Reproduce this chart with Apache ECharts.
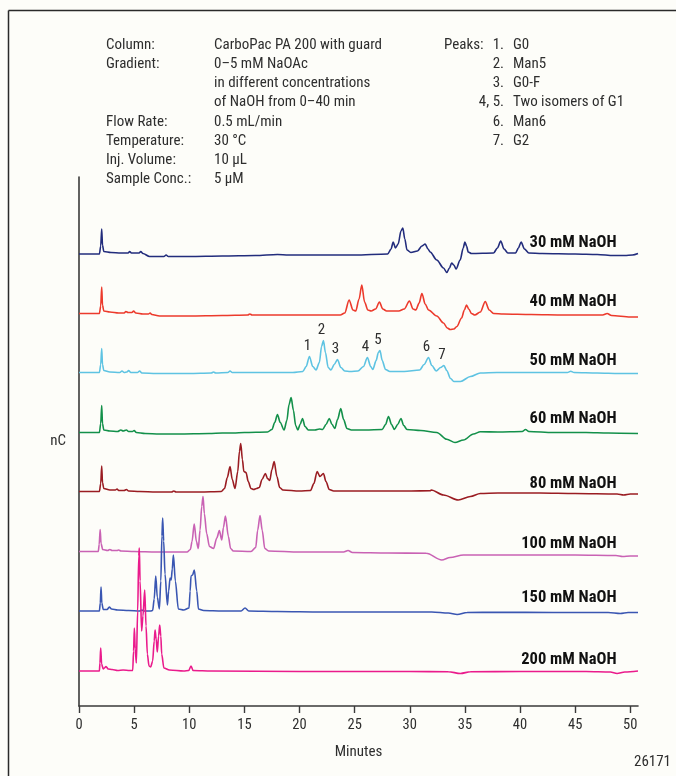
<!DOCTYPE html>
<html>
<head>
<meta charset="utf-8">
<script src="https://cdn.jsdelivr.net/npm/echarts@6/dist/echarts.min.js"></script>
<style>
  html, body { margin: 0; padding: 0; background: #fdfdf9; }
  #chart { width: 676px; height: 776px; }
</style>
</head>
<body>
<div id="chart"></div>
<script>
// ---- Chromatograms: [retention time (min), detector response] ----
const traceNames = ['30 mM NaOH', '40 mM NaOH', '50 mM NaOH', '60 mM NaOH',
                    '80 mM NaOH', '100 mM NaOH', '150 mM NaOH', '200 mM NaOH'];

const naoh30 = [[0,0],[1.85,0],[1.97,8],[2.06,25],[2.13,9],[2.25,2.5],[2.9,1.5],[3.8,1],[4.45,1],[4.6,2.5],[4.75,1],[5.45,1],[5.6,2.5],[5.8,0.5],[6.4,-2.5],[7.7,-2.5],[7.9,-1],[8.1,-2.5],[10,-2.5],[13,-2],[16,-1.5],[18,-0.5],[19,-1],[22,-1],[25,-1],[28.0,0],[28.3,5],[28.5,12],[28.7,6],[28.95,10],[29.2,23],[29.37,26],[29.55,15],[29.75,4],[30.1,1.5],[30.7,3],[31.1,8],[31.4,10],[31.65,5],[31.85,2],[32.45,-6],[33.06,-14],[33.36,-18.5],[33.6,-14],[33.8,-9],[34.0,-11],[34.2,-15],[34.57,-6],[34.85,6],[35.0,12],[35.15,8],[35.3,2],[35.6,0.5],[37.6,1],[37.95,6],[38.25,13],[38.55,5],[38.9,1],[39.6,1],[39.85,6],[40.1,12],[40.4,5],[40.8,1],[42,0.5],[45,0],[47,-0.5],[48.5,-1.5],[49.5,-1.5],[50.2,-1],[50.7,0.5]];

const naoh40 = [[0,0.5],[1.85,0.5],[1.97,8],[2.06,27],[2.13,9],[2.25,3],[2.8,2],[3.6,1],[4.1,1],[4.25,2.5],[4.45,1.5],[4.8,1.5],[4.95,3],[5.15,1],[5.8,0],[6.3,0],[6.45,1],[6.6,-0.5],[7.3,-2],[10,-2],[13,-1.5],[15.3,-1],[15.5,0],[15.7,-1],[18,-1],[21,-1],[23.7,-1],[24.1,1],[24.5,14],[24.85,4],[25.1,3],[25.4,15],[25.65,29],[25.9,12],[26.2,4],[26.5,3],[26.9,5],[27.25,12],[27.55,5],[27.9,3],[29.0,3],[29.5,5],[29.97,13],[30.3,5],[30.55,4],[30.85,11],[31.1,20.5],[31.4,10],[31.7,4],[32.45,-2],[33.06,-9],[33.4,-14],[33.67,-15.5],[34.0,-15],[34.27,-12.5],[34.7,-4],[34.95,4],[35.15,9],[35.35,5],[35.6,0.5],[35.9,-1],[36.4,2],[36.85,12.5],[37.2,4],[37.6,0.5],[38.5,0],[41,-0.5],[44,-1],[47.5,-1],[47.9,0.5],[48.3,-1.5],[50,-3],[50.7,-3]];

const naoh50 = [[0,0],[1.85,0],[1.97,8],[2.06,24],[2.13,8],[2.25,2],[2.8,0.5],[3.7,0],[3.9,1.5],[4.1,0],[4.35,0.5],[4.5,2],[4.7,0],[5.3,0],[5.5,1.5],[5.7,-0.5],[7,-1],[10,-1],[12,-0.5],[12.2,0.5],[12.4,-0.5],[13.5,0],[13.7,1.5],[13.9,0],[16,0],[19.4,0],[20.3,1],[20.6,6],[20.9,16],[21.2,6],[21.5,2.5],[21.8,10],[22.0,26],[22.17,32],[22.35,20],[22.6,5],[22.85,2.5],[23.15,8],[23.44,13],[23.75,5],[24.1,1.5],[24.6,1],[25.3,1.5],[25.8,6],[26.16,15],[26.45,6],[26.65,3],[26.95,12],[27.15,20],[27.3,22],[27.5,12],[27.8,3],[28.2,1],[29.5,1],[30.9,2.5],[31.3,8],[31.7,15],[32.0,7],[32.4,1.5],[32.8,5],[33.1,7],[33.35,2],[33.7,-6],[34.0,-9],[34.6,-9],[35.5,-4],[36.4,-0.5],[37.9,0],[40,0],[42,0],[44.3,0],[44.6,1.2],[44.9,0],[47,-0.5],[49,-1],[50.7,-1]];

const naoh60 = [[0,0],[1.85,0],[1.97,9],[2.06,27],[2.13,9],[2.25,2.5],[2.8,1.5],[3.5,1],[3.8,2.5],[4.0,1.5],[4.3,2.5],[4.5,1],[4.85,1],[5.0,2],[5.2,0],[6,-1],[7.3,-1.5],[9,-1.5],[11.8,-1],[13,-0.5],[14,-0.5],[15,0],[17.1,0.5],[17.5,3],[17.75,10],[18.0,18],[18.25,10],[18.6,2.5],[18.85,12],[19.05,28],[19.24,35],[19.45,22],[19.65,7],[19.85,2.5],[20.05,8],[20.27,14],[20.5,6],[20.8,2.5],[21.4,2.5],[21.8,3.5],[22.1,3],[22.4,8],[22.7,14],[22.95,8],[23.2,4],[23.45,13],[23.74,24],[24.0,13],[24.3,4],[24.7,2.5],[26,2.5],[27.5,3],[27.8,8],[28.07,16],[28.35,8],[28.6,3],[28.9,8],[29.2,14],[29.45,7],[29.75,3],[31,2],[32.45,0],[33.36,-6.8],[34.1,-10],[34.87,-7.5],[35.78,-1.5],[36.4,0.8],[38,0.5],[40.2,1],[40.5,3],[40.8,1],[43,0],[46,0],[48,-0.5],[50.7,-1]];

const naoh80 = [[0,0],[1.85,0],[1.97,8],[2.06,25.5],[2.13,9],[2.25,3],[2.8,1.5],[3.3,1.5],[3.45,2.5],[3.6,1],[4.1,1],[4.3,2],[4.5,0.5],[5.5,0],[7,-0.5],[8.4,-0.5],[8.6,0.5],[8.8,-0.5],[11,-0.5],[12.9,0],[13.2,3],[13.45,14],[13.7,25],[13.9,12],[14.15,3],[14.4,20],[14.55,40],[14.67,48],[14.82,32],[14.95,20],[15.15,19],[15.35,10],[15.6,3],[15.85,2],[16.1,3],[16.35,4],[16.6,12],[16.9,18],[17.1,13],[17.3,11],[17.5,22],[17.7,30],[17.95,15],[18.2,4],[18.5,1.5],[20,0.5],[21.0,1],[21.3,8],[21.6,20],[21.85,15],[22.17,18],[22.4,10],[22.7,2],[23.1,0.5],[25,0.5],[28,0.5],[30,0.5],[31.85,0.8],[31.95,1.5],[33.06,-3.5],[34.4,-8.5],[35.5,-5],[36.4,-2],[38,-1.5],[41.8,-1.5],[45,-2],[48.8,-2.5],[49.4,-3.5],[50,-2.5],[50.7,-2.5]];

const naoh100 = [[0,0],[1.75,0],[1.83,7],[1.92,22],[2.0,8],[2.15,2],[2.6,1],[2.8,2],[3.0,1],[3.45,1],[3.6,1.5],[3.8,0.5],[5,0],[7,-0.5],[9.8,-0.5],[10.1,2],[10.25,10],[10.45,27.5],[10.65,10],[10.82,3],[10.98,21.5],[11.13,45],[11.25,55],[11.37,38],[11.58,18],[11.83,5],[12.2,3],[12.5,13.5],[12.73,21],[12.95,11.5],[13.1,24],[13.28,35.5],[13.55,15],[13.75,3],[14.0,0.5],[15.6,0],[16.03,4],[16.2,21],[16.42,36],[16.62,21],[16.85,3],[17.2,0.5],[20,-0.5],[24.0,-0.5],[24.4,1],[24.8,-1],[28,-1.5],[31.5,-1.8],[32.9,-8.5],[33.66,-6],[34.87,-3.5],[40,-3.5],[45,-3.5],[48.7,-4],[49.3,-5],[50,-4.5],[50.7,-4.5]];

const naoh150 = [[0,0],[1.85,0],[1.93,8],[2.0,24],[2.07,8],[2.2,1.5],[2.55,1.5],[2.75,4],[2.95,2],[3.5,1],[4.5,0.5],[5.5,0],[5.7,1],[5.9,0],[6.5,0],[6.68,0.5],[6.82,12],[6.96,35],[7.1,14],[7.29,2],[7.42,30],[7.52,75],[7.59,93],[7.68,70],[7.8,37],[8.02,6],[8.13,20],[8.26,33],[8.36,31],[8.46,42],[8.56,56],[8.74,30],[9.01,2],[9.5,1],[9.98,3],[10.08,20],[10.16,35],[10.3,36],[10.46,41],[10.68,20],[10.83,2],[11.3,0.5],[13,0],[14.7,0],[15.06,3],[15.4,0],[18,-0.5],[22,-1],[28,-1],[32,-1],[33.5,-2],[34.3,-3.5],[35.2,-1.5],[38,-1.2],[43,-1.5],[48,-1.5],[49.1,-2.5],[49.8,-1.5],[50.7,-1.5]];

const naoh200 = [[0,0],[1.85,0],[1.9,8],[1.97,23],[2.05,7],[2.2,2],[2.3,3],[2.45,4.5],[2.65,2],[3.0,1.5],[3.5,0.5],[4.0,1],[4.6,0.5],[4.87,0.5],[4.95,20],[5.02,43],[5.1,22],[5.2,8],[5.32,60],[5.42,115],[5.47,123],[5.54,90],[5.68,40],[5.8,55],[5.96,81],[6.08,45],[6.2,17],[6.35,5],[6.5,4],[6.68,10],[6.82,30],[6.9,41],[7.0,32],[7.1,19],[7.22,35],[7.32,46],[7.42,35],[7.5,17],[7.7,3],[8.2,1],[9.5,0],[9.95,0.5],[10.16,5],[10.35,0.5],[12,0],[20,-0.5],[30,-0.5],[33.5,-0.8],[34.6,-2.5],[35.5,-0.8],[40,-0.5],[46,-0.5],[48.2,-1],[48.8,-2.5],[49.5,-1],[50.7,0]];

const traces = [naoh30, naoh40, naoh50, naoh60, naoh80, naoh100, naoh150, naoh200];

// Numbered peaks on the 50 mM run
const peakNumbers = ['1', '2', '3', '4', '5', '6', '7'];
const peakTimes = [20.9, 22.17, 23.44, 26.16, 27.3, 31.7, 33.1];

// Axis ticks (minutes)
const minuteTicks = [0, 5, 10, 15, 20, 25, 30, 35, 40, 45, 50];

// Method notes
const methodLabels = ['Column:', 'Gradient:', '', '', 'Flow Rate:', 'Temperature:', 'Inj. Volume:', 'Sample Conc.:'];
const methodValues = ['CarboPac PA 200 with guard', '0–5 mM NaOAc', 'in different concentrations',
                      'of NaOH from 0–40 min', '0.5 mL/min', '30 °C', '10 µL', '5 µM'];
const peakKeyNumbers = ['1.', '2.', '3.', '4, 5.', '6.', '7.'];
const peakKeyNames = ['G0', 'Man5', 'G0-F', 'Two isomers of G1', 'Man6', 'G2'];

// ---- Layout & style ----
const colors = ['#222c7c', '#ec3a2c', '#5ec3e2', '#13904a', '#9a1c22', '#c962b4', '#3a56b2', '#ea1b8c'];
const stackOffsets = [452, 392, 333.5, 273.5, 214.5, 154.5, 95, 35];   // vertical stacking of runs
const nameLift = [11, 12, 11.5, 14, 7.5, 7.5, 13.5, 11];             // run label height above baseline
const NARROW = '"Liberation Sans Narrow", "Roboto Condensed", "DejaVu Sans Condensed", sans-serif';
const ink = '#2e2e2e';

const series = traces.map((tr, i) => {
  const off = stackOffsets[i];
  const s = {
    type: 'line',
    name: traceNames[i],
    data: tr.map(p => [p[0], off + p[1]]),
    showSymbol: false,
    symbol: 'none',
    smooth: 0.3,
    smoothMonotone: 'x',
    lineStyle: { color: colors[i], width: 1.6 },
    silent: true,
    z: 3,
    markPoint: {
      symbol: 'circle',
      symbolSize: 1,
      itemStyle: { color: 'rgba(0,0,0,0)' },
      silent: true,
      data: [{
        coord: [48.8, off + nameLift[i]],
        label: {
          show: true, position: 'left', distance: 0,
          formatter: traceNames[i],
          fontFamily: NARROW, fontWeight: 'bold', fontSize: 16.5, color: '#111'
        }
      }]
    }
  };
  if (i === 2) {
    peakTimes.forEach((t, k) => {
      const pt = tr.find(p => p[0] === t);
      s.markPoint.data.push({
        coord: [t, off + pt[1]],
        label: {
          show: true, position: 'top', distance: 2, offset: [-2, 0],
          formatter: peakNumbers[k],
          fontFamily: NARROW, fontSize: 15, color: ink
        }
      });
    });
  }
  return s;
});

const graphics = [
  { type: 'line', shape: { x1: 8.5, y1: 10.5, x2: 676, y2: 10.5 }, style: { stroke: '#2a2a2a', lineWidth: 1.5 } },
  { type: 'line', shape: { x1: 8.5, y1: 10.5, x2: 8.5, y2: 776 }, style: { stroke: '#2a2a2a', lineWidth: 1.5 } }
];
const row = k => 45 + k * 19.2;
const noteText = (text, x, y, align) => ({
  type: 'text',
  style: { text, x, y, align: align || 'left', verticalAlign: 'middle',
           font: '15px ' + NARROW, fill: ink }
});
methodLabels.forEach((t, k) => { if (t) graphics.push(noteText(t, 106, row(k))); });
methodValues.forEach((t, k) => graphics.push(noteText(t, 214, row(k))));
graphics.push(noteText('Peaks:', 444, row(0)));
peakKeyNumbers.forEach((t, k) => graphics.push(noteText(t, 504, row(k), 'right')));
peakKeyNames.forEach((t, k) => graphics.push(noteText(t, 513, row(k))));
graphics.push(noteText('26171', 671, 762, 'right'));

const chart = echarts.init(document.getElementById('chart'), null, { renderer: 'canvas' });
chart.setOption({
  animation: false,
  backgroundColor: '#fdfdf9',
  grid: { left: 79, right: 38, top: 177, bottom: 70, containLabel: false },
  xAxis: {
    type: 'value',
    min: 0, max: 50.7, interval: 5,
    name: 'Minutes', nameLocation: 'middle', nameGap: 39,
    nameTextStyle: { fontFamily: NARROW, fontSize: 15, color: ink },
    axisLine: { lineStyle: { color: '#3a3a3a', width: 1.6 } },
    axisTick: { show: true, length: 7, customValues: minuteTicks, lineStyle: { color: '#3a3a3a', width: 1.4 } },
    axisLabel: { customValues: minuteTicks, margin: 12, fontFamily: NARROW, fontSize: 14.5, color: ink },
    splitLine: { show: false }
  },
  yAxis: {
    type: 'value',
    min: 0, max: 529,
    name: 'nC', nameLocation: 'middle', nameGap: 13, nameRotate: 0,
    nameTextStyle: { fontFamily: NARROW, fontSize: 15, color: ink, align: 'right', verticalAlign: 'middle' },
    axisLine: { show: true, lineStyle: { color: '#3a3a3a', width: 1.6 } },
    axisTick: { show: false },
    axisLabel: { show: false },
    splitLine: { show: false }
  },
  graphic: graphics,
  series
});
</script>
</body>
</html>
